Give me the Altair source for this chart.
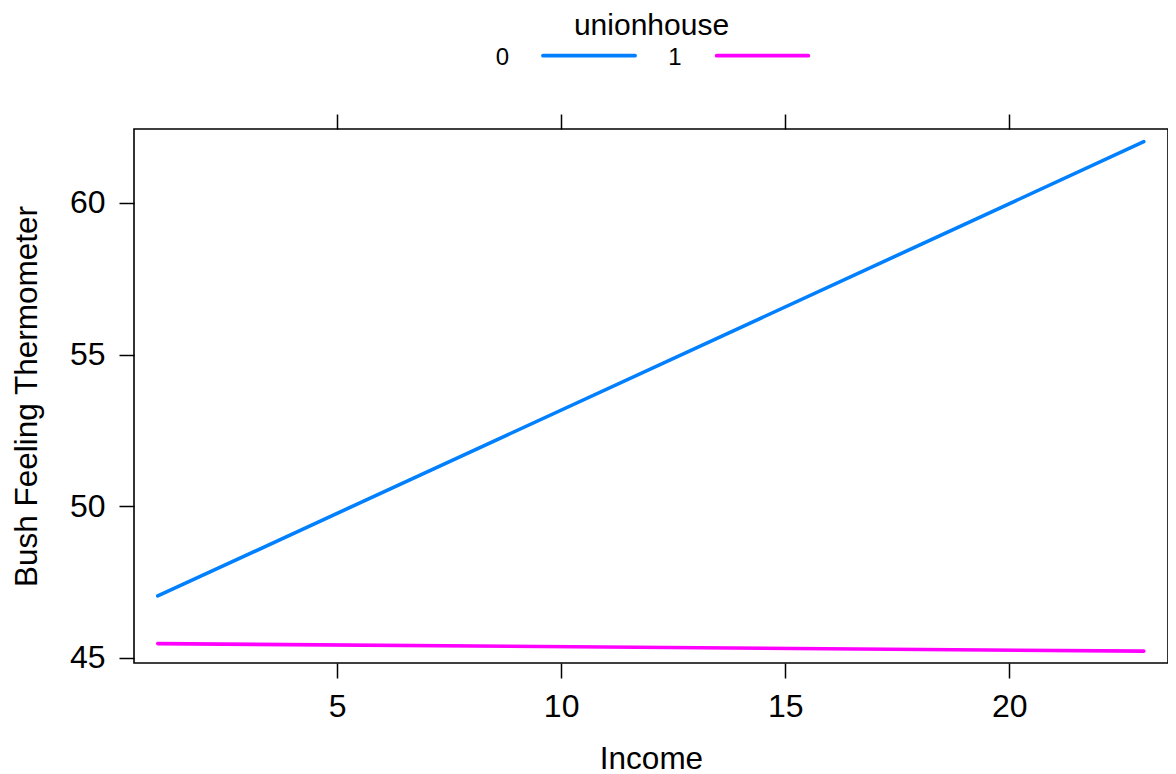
import altair as alt
import pandas as pd

# ---- data ----
SERIES = ["0", "1"]
COLORS = ["#0080ff", "#ff00ff"]
INCOME = [1, 23]
BUSH_0 = [47.04, 62.02]
BUSH_1 = [45.47, 45.22]
X_TICKS = [5, 10, 15, 20]
Y_TICKS = [45, 50, 55, 60]
X_DOMAIN = [0.47, 23.54]
Y_DOMAIN = [44.83, 62.44]
LEGEND_TITLE = "unionhouse"
X_TITLE = "Income"
Y_TITLE = "Bush Feeling Thermometer"

rows = []
for s, vals in zip(SERIES, [BUSH_0, BUSH_1]):
    for x, y in zip(INCOME, vals):
        rows.append({"unionhouse": s, "income": x, "bush": y})
df = pd.DataFrame(rows)

FONT = "Liberation Sans"
W, H = 1034, 534

xs = alt.Scale(domain=X_DOMAIN, nice=False, zero=False)
ys = alt.Scale(domain=Y_DOMAIN, nice=False, zero=False)
cs = alt.Scale(domain=SERIES, range=COLORS)

axis_common = dict(
    domain=False, grid=False, ticks=True, tickColor="black", tickWidth=1.5,
    tickSize=15, labelFont=FONT, labelFontSize=32, labelColor="black",
    titleFont=FONT, titleFontSize=31.5, titleFontWeight="normal", titleColor="black",
)

lines = alt.Chart(df).mark_line(strokeWidth=3.6, strokeCap="round").encode(
    x=alt.X("income:Q", scale=xs,
            axis=alt.Axis(orient="bottom", values=X_TICKS, title=X_TITLE,
                          labelPadding=13, titlePadding=21, **axis_common)),
    y=alt.Y("bush:Q", scale=ys,
            axis=alt.Axis(orient="left", values=Y_TICKS, title=Y_TITLE,
                          labelPadding=14, titlePadding=26, **axis_common)),
    color=alt.Color("unionhouse:N", scale=cs, legend=None),
)

mirror = alt.Chart(df).mark_line(opacity=0).encode(
    x=alt.X("income:Q", scale=xs,
            axis=alt.Axis(orient="top", values=X_TICKS, title="", labels=False, **axis_common)),
    y=alt.Y("bush:Q", scale=ys,
            axis=alt.Axis(orient="right", values=Y_TICKS, title="", labels=False, **axis_common)),
)

# ---- key (legend) drawn above the panel, lattice style ----
key_title = alt.Chart(pd.DataFrame({"t": [LEGEND_TITLE]})).mark_text(
    font=FONT, fontSize=30, color="black", align="center", baseline="alphabetic"
).encode(x=alt.value(517.5), y=alt.value(-93.7), text="t:N")

LABEL_X = [368.5, 541]
RULE_X = [(409, 501), (582.7, 674.3)]
key_layers = []
for i, s in enumerate(SERIES):
    d = pd.DataFrame({"unionhouse": [s]})
    key_layers.append(
        alt.Chart(d).mark_text(font=FONT, fontSize=24, color="black",
                               align="center", baseline="alphabetic").encode(
            x=alt.value(LABEL_X[i]), y=alt.value(-64), text="unionhouse:N")
    )
    key_layers.append(
        alt.Chart(d).mark_rule(strokeWidth=3.8, strokeCap="round").encode(
            x=alt.value(RULE_X[i][0]), x2=alt.value(RULE_X[i][1]), y=alt.value(-73.3),
            color=alt.Color("unionhouse:N", scale=cs, legend=None))
    )

chart = alt.layer(lines, mirror, key_title, *key_layers).resolve_scale(
    x="independent", y="independent"
).properties(
    width=W, height=H,
    autosize=alt.AutoSizeParams(type="none"),
    padding={"left": 126, "top": 121, "right": 0, "bottom": 111},
    background="white",
).configure_view(stroke="black", strokeWidth=1.6)

chart.save("out.html", embed_options={"renderer": "svg", "actions": False})
